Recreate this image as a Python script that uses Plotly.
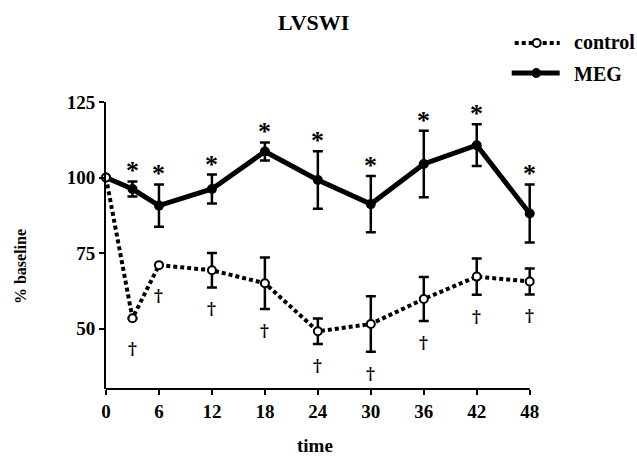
import plotly.graph_objects as go

time = [0, 3, 6, 12, 18, 24, 30, 36, 42, 48]
meg_mean = [100, 96.2, 90.7, 96.2, 108.6, 99.2, 91.2, 104.5, 110.7, 88.1]
meg_err = [0, 2.5, 7.0, 4.8, 3.0, 9.5, 9.3, 11.0, 6.9, 9.6]
ctl_mean = [100, 53.4, 71.0, 69.3, 65.0, 49.1, 51.5, 59.8, 67.2, 65.6]
ctl_err = [0, 0, 0, 5.7, 8.5, 4.2, 9.2, 7.3, 6.0, 4.3]
meg_sig = [False, True, True, True, True, True, True, True, True, True]
ctl_sig = [False, True, True, True, True, True, True, True, True, True]
x_ticks = [0, 6, 12, 18, 24, 30, 36, 42, 48]
y_ticks = [50, 75, 100, 125]

FONT = "Liberation Serif"
W, H = 637, 458
L, T, B = 106, 102, 69
X_MAX = 48.6
PW = 424 * X_MAX / 48.0
PH = H - T - B
R = W - L - PW


def px(x):
    return (x - L) / PW


def py(y):
    return (H - B - y) / PH


fig = go.Figure()
fig.add_trace(go.Scatter(
    x=time, y=meg_mean, name="MEG", mode="lines+markers",
    line=dict(color="black", width=5),
    marker=dict(color="black", size=10),
    error_y=dict(type="data", array=meg_err, visible=True, color="black", thickness=2.5, width=5),
    cliponaxis=False,
))
fig.add_trace(go.Scatter(
    x=time, y=ctl_mean, name="control", mode="lines+markers",
    line=dict(color="black", width=4, dash="4px,3px"),
    marker=dict(color="white", size=8, line=dict(color="black", width=2)),
    error_y=dict(type="data", array=ctl_err, visible=True, color="black", thickness=2.5, width=5),
    cliponaxis=False,
))

ann = []
for t, m, e, s in zip(time, meg_mean, meg_err, meg_sig):
    if s:
        ann.append(dict(x=t, y=m + e, xref="x", yref="y", text="*", showarrow=False,
                        yanchor="bottom", yshift=-6,
                        font=dict(family=FONT, size=26, color="black", weight="bold")))
for t, m, e, s in zip(time, ctl_mean, ctl_err, ctl_sig):
    if s:
        ann.append(dict(x=t, y=m - max(e, 3), xref="x", yref="y", text="†", showarrow=False,
                        yanchor="middle", yshift=-21,
                        font=dict(family="DejaVu Serif", size=17, color="black", weight="bold")))
ann.append(dict(x=px(314), y=py(22), xref="paper", yref="paper", text="LVSWI", showarrow=False,
                xanchor="center", yanchor="middle",
                font=dict(family=FONT, size=22, color="black", weight="bold")))
ann.append(dict(x=px(20), y=py(267), xref="paper", yref="paper", text="% baseline", showarrow=False,
                textangle=-90, xanchor="center", yanchor="middle",
                font=dict(family=FONT, size=16, color="black", weight="bold")))
ann.append(dict(x=px(315), y=py(445), xref="paper", yref="paper", text="time", showarrow=False,
                xanchor="center", yanchor="middle",
                font=dict(family=FONT, size=19, color="black", weight="bold")))
# legend (drawn manually)
ann.append(dict(x=px(572), y=py(42), xref="paper", yref="paper", text="control", showarrow=False,
                xanchor="left", yanchor="middle",
                font=dict(family=FONT, size=20, color="black", weight="bold")))
ann.append(dict(x=px(572), y=py(74), xref="paper", yref="paper", text="MEG", showarrow=False,
                xanchor="left", yanchor="middle",
                font=dict(family=FONT, size=20, color="black", weight="bold")))

shapes = [
    # x-axis line ending at 48
    dict(type="line", xref="x", yref="paper", x0=0, x1=48, y0=0, y1=0,
         line=dict(color="black", width=2)),
    # legend samples
    dict(type="line", xref="paper", yref="paper", x0=px(515), x1=px(560), y0=py(43), y1=py(43),
         line=dict(color="black", width=4, dash="4px,3px")),
    dict(type="circle", xref="paper", yref="paper", x0=px(533), x1=px(541), y0=py(39), y1=py(47),
         fillcolor="white", line=dict(color="black", width=2)),
    dict(type="line", xref="paper", yref="paper", x0=px(512), x1=px(560), y0=py(73), y1=py(73),
         line=dict(color="black", width=5)),
    dict(type="circle", xref="paper", yref="paper", x0=px(532), x1=px(541), y0=py(68.5), y1=py(77.5),
         fillcolor="black", line=dict(color="black", width=1)),
]

fig.update_layout(
    width=W, height=H,
    margin=dict(l=L, r=R, t=T, b=B),
    paper_bgcolor="white", plot_bgcolor="white",
    showlegend=False,
    annotations=ann,
    shapes=shapes,
    xaxis=dict(range=[0, X_MAX], tickvals=x_ticks, ticks="outside", ticklen=5, tickwidth=2,
               tickcolor="black",
               showline=False, showgrid=False, zeroline=False,
               tickfont=dict(family=FONT, size=19, color="black", weight="bold")),
    yaxis=dict(range=[30, 125], tickvals=y_ticks, ticks="outside", ticklen=5, tickwidth=2,
               tickcolor="black",
               showline=True, linecolor="black", linewidth=2, showgrid=False, zeroline=False,
               tickfont=dict(family=FONT, size=19, color="black", weight="bold")),
)

fig.write_html("out.html")
